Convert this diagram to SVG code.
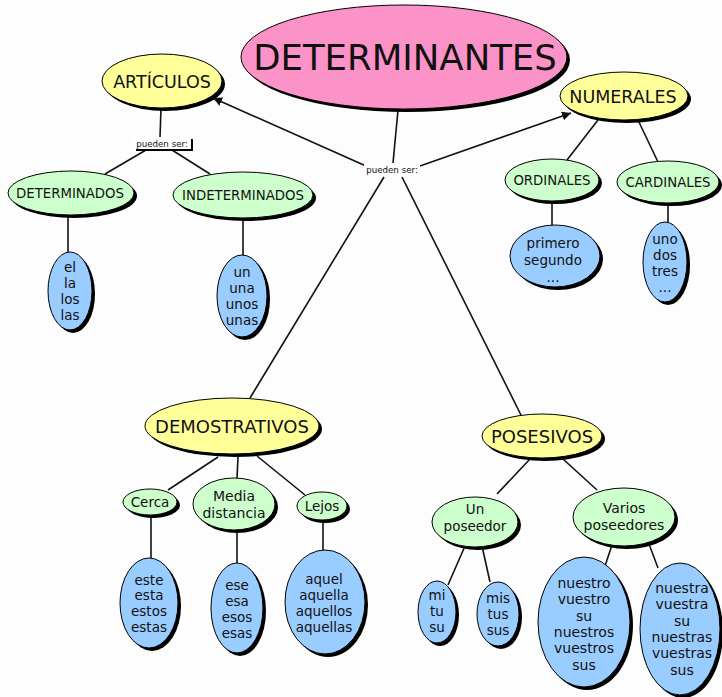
<svg xmlns="http://www.w3.org/2000/svg" width="722" height="697" viewBox="0 0 722 697">
<defs>
<style>
.sh{fill:#000}
.pk{fill:#fb93c8;stroke:#000;stroke-width:1}
.ye{fill:#ffff99;stroke:#000;stroke-width:1}
.gr{fill:#ccffcc;stroke:#000;stroke-width:1}
.bl{fill:#99ccff;stroke:#000;stroke-width:1}
text{font-family:"DejaVu Sans","Liberation Sans",sans-serif;fill:#111;text-anchor:middle}
.t1{font-size:35.5px}
.t2{font-size:17.5px}
.t3{font-size:13.3px}
.t4{font-size:13.5px}
.t5{font-size:14px}
.lb{font-size:8.7px}
.ln{stroke:#111;stroke-width:1.6;fill:none}
</style>
<marker id="ah" viewBox="0 0 10 10" refX="10" refY="5" markerWidth="9" markerHeight="9" markerUnits="userSpaceOnUse" orient="auto">
<path d="M0,0 L10,5 L0,10 z" fill="#111"/>
</marker>
</defs>
<rect width="722" height="697" fill="#fdfdfd"/>
<g id="connectors">
<line class="ln" x1="398" y1="110" x2="393" y2="163"/>
<line class="ln" x1="366" y1="166" x2="213" y2="98" marker-end="url(#ah)"/>
<line class="ln" x1="420" y1="166" x2="571" y2="113" marker-end="url(#ah)"/>
<line class="ln" x1="384" y1="177" x2="250" y2="398"/>
<line class="ln" x1="402" y1="177" x2="521" y2="415"/>
<line class="ln" x1="161" y1="108" x2="160" y2="138"/>
<line class="ln" x1="146" y1="150" x2="105" y2="174"/>
<line class="ln" x1="172" y1="150" x2="210" y2="174"/>
<line class="ln" x1="68" y1="215" x2="68" y2="252"/>
<line class="ln" x1="243" y1="218" x2="243" y2="256"/>
<line class="ln" x1="598" y1="120" x2="567" y2="160"/>
<line class="ln" x1="638" y1="120" x2="658" y2="162"/>
<line class="ln" x1="552" y1="201" x2="552" y2="226"/>
<line class="ln" x1="668" y1="203" x2="668" y2="222"/>
<line class="ln" x1="218" y1="457" x2="168" y2="490"/>
<line class="ln" x1="238" y1="457" x2="237" y2="478"/>
<line class="ln" x1="257" y1="456" x2="305" y2="495"/>
<line class="ln" x1="151" y1="516" x2="151" y2="558"/>
<line class="ln" x1="237" y1="530" x2="237" y2="563"/>
<line class="ln" x1="323" y1="520" x2="323" y2="550"/>
<line class="ln" x1="530" y1="459" x2="497" y2="494"/>
<line class="ln" x1="563" y1="459" x2="597" y2="490"/>
<line class="ln" x1="465" y1="546" x2="448" y2="585"/>
<line class="ln" x1="482" y1="546" x2="490" y2="582"/>
<line class="ln" x1="612" y1="545" x2="605" y2="566"/>
<line class="ln" x1="649" y1="544" x2="658" y2="568"/>
</g>
<g id="lbl-articulos">
<rect x="136" y="139" width="57" height="12" class="sh"/>
<rect x="134" y="137" width="57" height="12" fill="#fff"/>
<text class="lb" x="162" y="146.5">pueden ser:</text>
</g>
<g id="lbl-main">
<rect x="364" y="163" width="56" height="13" fill="#fdfdfd"/>
<text class="lb" x="392" y="173">pueden ser:</text>
</g>
<g id="determinantes">
<ellipse class="sh" cx="407" cy="60" rx="163" ry="52"/>
<ellipse class="pk" cx="404" cy="57" rx="163" ry="52"/>
<text class="t1" x="405" y="70">DETERMINANTES</text>
</g>
<g id="articulos">
<ellipse class="sh" cx="165" cy="84" rx="60" ry="27"/>
<ellipse class="ye" cx="162" cy="81" rx="60" ry="27"/>
<text class="t2" x="162" y="88">ARTÍCULOS</text>
</g>
<g id="numerales">
<ellipse class="sh" cx="627" cy="99" rx="64" ry="24"/>
<ellipse class="ye" cx="624" cy="96" rx="64" ry="24"/>
<text class="t2" x="623" y="103">NUMERALES</text>
</g>
<g id="determinados">
<ellipse class="sh" cx="74" cy="196" rx="63" ry="22"/>
<ellipse class="gr" cx="71" cy="193" rx="63" ry="22"/>
<text class="t3" x="70" y="198">DETERMINADOS</text>
</g>
<g id="indeterminados">
<ellipse class="sh" cx="246" cy="198" rx="70" ry="23"/>
<ellipse class="gr" cx="243" cy="195" rx="70" ry="23"/>
<text class="t3" x="243" y="200">INDETERMINADOS</text>
</g>
<g id="ordinales">
<ellipse class="sh" cx="555" cy="183" rx="47" ry="21"/>
<ellipse class="gr" cx="552" cy="180" rx="47" ry="21"/>
<text class="t3" x="552" y="185">ORDINALES</text>
</g>
<g id="cardinales">
<ellipse class="sh" cx="671" cy="185" rx="51" ry="21"/>
<ellipse class="gr" cx="668" cy="182" rx="51" ry="21"/>
<text class="t3" x="668" y="187">CARDINALES</text>
</g>
<g id="el-la">
<ellipse class="sh" cx="73" cy="294" rx="22" ry="39"/>
<ellipse class="bl" cx="70" cy="291" rx="22" ry="39"/>
<text class="t4" x="70" y="272">el</text>
<text class="t4" x="70" y="288">la</text>
<text class="t4" x="70" y="304">los</text>
<text class="t4" x="70" y="320">las</text>
</g>
<g id="un-una">
<ellipse class="sh" cx="245" cy="299" rx="25" ry="41"/>
<ellipse class="bl" cx="242" cy="296" rx="25" ry="41"/>
<text class="t4" x="242" y="277">un</text>
<text class="t4" x="242" y="293">una</text>
<text class="t4" x="242" y="309">unos</text>
<text class="t4" x="242" y="325">unas</text>
</g>
<g id="primero">
<ellipse class="sh" cx="558" cy="259" rx="45" ry="31"/>
<ellipse class="bl" cx="555" cy="256" rx="45" ry="31"/>
<text class="t4" x="553" y="248">primero</text>
<text class="t4" x="553" y="265">segundo</text>
<text class="t4" x="553" y="282">...</text>
</g>
<g id="uno-dos">
<ellipse class="sh" cx="668" cy="265" rx="22" ry="40"/>
<ellipse class="bl" cx="665" cy="262" rx="22" ry="40"/>
<text class="t4" x="665" y="244">uno</text>
<text class="t4" x="665" y="260">dos</text>
<text class="t4" x="665" y="276">tres</text>
<text class="t4" x="665" y="292">...</text>
</g>
<g id="demostrativos">
<ellipse class="sh" cx="235" cy="429" rx="87" ry="28"/>
<ellipse class="ye" cx="232" cy="426" rx="87" ry="28"/>
<text class="t2" x="232" y="433" style="font-size:18px">DEMOSTRATIVOS</text>
</g>
<g id="cerca">
<ellipse class="sh" cx="153" cy="505" rx="27" ry="13"/>
<ellipse class="gr" cx="150" cy="502" rx="27" ry="13"/>
<text class="t4" x="150" y="507">Cerca</text>
</g>
<g id="media">
<ellipse class="sh" cx="237" cy="507" rx="41" ry="26"/>
<ellipse class="gr" cx="234" cy="504" rx="41" ry="26"/>
<text class="t5" x="234" y="501">Media</text>
<text class="t5" x="234" y="518">distancia</text>
</g>
<g id="lejos">
<ellipse class="sh" cx="325" cy="509" rx="25" ry="14"/>
<ellipse class="gr" cx="322" cy="506" rx="25" ry="14"/>
<text class="t4" x="322" y="511">Lejos</text>
</g>
<g id="este">
<ellipse class="sh" cx="152" cy="606" rx="29" ry="45"/>
<ellipse class="bl" cx="149" cy="603" rx="29" ry="45"/>
<text class="t4" x="149" y="585">este</text>
<text class="t4" x="149" y="600">esta</text>
<text class="t4" x="149" y="616">estos</text>
<text class="t4" x="149" y="632">estas</text>
</g>
<g id="ese">
<ellipse class="sh" cx="240" cy="611" rx="26" ry="45"/>
<ellipse class="bl" cx="237" cy="608" rx="26" ry="45"/>
<text class="t4" x="237" y="590">ese</text>
<text class="t4" x="237" y="606">esa</text>
<text class="t4" x="237" y="622">esos</text>
<text class="t4" x="237" y="638">esas</text>
</g>
<g id="aquel">
<ellipse class="sh" cx="328" cy="605" rx="40" ry="52"/>
<ellipse class="bl" cx="325" cy="602" rx="40" ry="52"/>
<text class="t4" x="324" y="584">aquel</text>
<text class="t4" x="324" y="600">aquella</text>
<text class="t4" x="324" y="616">aquellos</text>
<text class="t4" x="324" y="632">aquellas</text>
</g>
<g id="posesivos">
<ellipse class="sh" cx="545" cy="439" rx="60" ry="22"/>
<ellipse class="ye" cx="542" cy="436" rx="60" ry="22"/>
<text class="t2" x="542" y="443" style="font-size:18px">POSESIVOS</text>
</g>
<g id="un-poseedor">
<ellipse class="sh" cx="478" cy="525" rx="43" ry="25"/>
<ellipse class="gr" cx="475" cy="522" rx="43" ry="25"/>
<text class="t4" x="475" y="514">Un</text>
<text class="t4" x="475" y="531">poseedor</text>
</g>
<g id="varios">
<ellipse class="sh" cx="627" cy="520" rx="51" ry="29"/>
<ellipse class="gr" cx="624" cy="517" rx="51" ry="29"/>
<text class="t5" x="624" y="513">Varios</text>
<text class="t5" x="624" y="530">poseedores</text>
</g>
<g id="mi-tu">
<ellipse class="sh" cx="440" cy="615" rx="19" ry="31"/>
<ellipse class="bl" cx="437" cy="612" rx="19" ry="31"/>
<text class="t4" x="437" y="600">mi</text>
<text class="t4" x="437" y="616">tu</text>
<text class="t4" x="437" y="632">su</text>
</g>
<g id="mis-tus">
<ellipse class="sh" cx="501" cy="617" rx="21" ry="32"/>
<ellipse class="bl" cx="498" cy="614" rx="21" ry="32"/>
<text class="t4" x="498" y="603">mis</text>
<text class="t4" x="498" y="619">tus</text>
<text class="t4" x="498" y="635">sus</text>
</g>
<g id="nuestro">
<ellipse class="sh" cx="587" cy="625" rx="46" ry="65"/>
<ellipse class="bl" cx="584" cy="622" rx="46" ry="65"/>
<text class="t5" x="584" y="588">nuestro</text>
<text class="t5" x="584" y="604">vuestro</text>
<text class="t5" x="584" y="621">su</text>
<text class="t5" x="584" y="637">nuestros</text>
<text class="t5" x="584" y="653">vuestros</text>
<text class="t5" x="584" y="670">sus</text>
</g>
<g id="nuestra">
<ellipse class="sh" cx="683" cy="632" rx="40" ry="66"/>
<ellipse class="bl" cx="680" cy="629" rx="40" ry="66"/>
<text class="t5" x="682" y="593">nuestra</text>
<text class="t5" x="682" y="609">vuestra</text>
<text class="t5" x="682" y="626">su</text>
<text class="t5" x="682" y="642">nuestras</text>
<text class="t5" x="682" y="658">vuestras</text>
<text class="t5" x="682" y="675">sus</text>
</g>
</svg>
